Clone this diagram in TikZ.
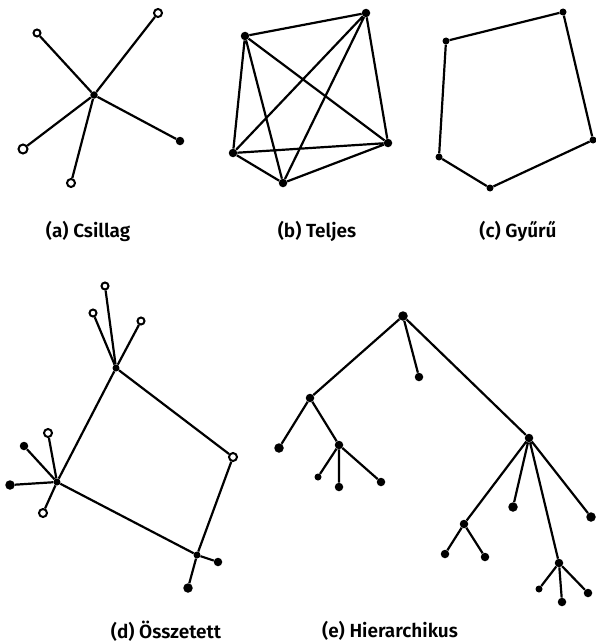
\documentclass[tikz,border=0pt]{standalone}
\usepackage{fontspec}
\newfontfamily\lblfont{Fira Sans SemiBold}
\begin{document}
\begin{tikzpicture}[x=1pt,y=-1pt,
  fdot/.style={circle,fill=black,inner sep=0pt,minimum size=8.5pt},
  sdot/.style={circle,fill=black,inner sep=0pt,minimum size=7pt},
  odot/.style={circle,draw=black,line width=2pt,fill=white,inner sep=0pt,minimum size=8pt},
  edge/.style={line width=2.2pt,black},
  lbl/.style={font=\lblfont\fontsize{19}{22}\selectfont,inner sep=0pt,anchor=center}]
\useasboundingbox (0,0) rectangle (596,642);
% (a) star
\node[fdot,minimum size=7.5pt] (ac) at (94,95) {};
\node[odot] (a1) at (158,13) {};
\node[odot,minimum size=7pt] (a2) at (37,33) {};
\node[odot,minimum size=9pt] (a3) at (23,149) {};
\node[odot] (a4) at (71,183) {};
\node[fdot] (a5) at (180,141) {};
\foreach \n in {a1,a2,a3,a4,a5} \draw[edge] (ac) -- (\n);
% (b) complete
\node[fdot] (b1) at (245,36) {};
\node[fdot] (b2) at (366,13) {};
\node[fdot] (b3) at (388,143) {};
\node[fdot] (b4) at (283,183) {};
\node[fdot] (b5) at (233,153) {};
\draw[edge] (b1)--(b2) (b1)--(b3) (b1)--(b4) (b1)--(b5)
  (b2)--(b3) (b2)--(b4) (b2)--(b5) (b3)--(b4) (b3)--(b5) (b4)--(b5);
% (c) ring
\node[sdot] (c1) at (446,41) {};
\node[sdot] (c2) at (563,12) {};
\node[sdot] (c3) at (593,140) {};
\node[sdot] (c4) at (490,188) {};
\node[sdot] (c5) at (439,157) {};
\draw[edge] (c1)--(c2)--(c3)--(c4)--(c5)--(c1);
% labels top
\node[lbl] (la) at (88,231) {(a) Csillag};
\node[lbl] (lb) at (317,231) {(b) Teljes};
\node[lbl] (lc) at (518,231) {(c) Gyűrű};
% (d) composite
\node[sdot] (d1) at (116,368) {};
\node[sdot] (d2) at (57,482) {};
\node[odot] (d3) at (233,457) {};
\node[sdot] (d4) at (197,555) {};
\node[odot,minimum size=7pt] (d1a) at (105,286) {};
\node[odot,minimum size=7pt] (d1b) at (93,313) {};
\node[odot,minimum size=7pt] (d1c) at (141,321) {};
\node[odot] (d2a) at (48,433) {};
\node[fdot] (d2b) at (24,446) {};
\node[fdot,minimum size=9.5pt] (d2c) at (10,485) {};
\node[odot] (d2d) at (43,513) {};
\node[fdot] (d4a) at (218,562) {};
\node[fdot,minimum size=9.5pt] (d4b) at (188,588) {};
\draw[edge] (d1)--(d3)--(d4)--(d2)--(d1);
\foreach \n in {d1a,d1b,d1c} \draw[edge] (d1)--(\n);
\foreach \n in {d2a,d2b,d2c,d2d} \draw[edge] (d2)--(\n);
\foreach \n in {d4a,d4b} \draw[edge] (d4)--(\n);
% (e) hierarchy
\node[fdot,minimum size=9.5pt] (r) at (403,316) {};
\node[fdot] (m) at (419,377) {};
\node[fdot] (L) at (310,398) {};
\node[fdot] (R) at (529,438) {};
\node[fdot,minimum size=9.5pt] (L1) at (279,448) {};
\node[fdot] (L2) at (339,445) {};
\node[sdot] (L2a) at (318,477) {};
\node[fdot] (L2b) at (339,487) {};
\node[fdot] (L2c) at (381,482) {};
\node[fdot] (R1) at (464,524) {};
\node[fdot,minimum size=9.5pt] (R2) at (513,507) {};
\node[fdot] (R3) at (559,563) {};
\node[fdot,minimum size=9.5pt] (R4) at (591,517) {};
\node[fdot] (R1a) at (445,554) {};
\node[fdot] (R1b) at (485,557) {};
\node[sdot] (R3a) at (539,589) {};
\node[fdot] (R3b) at (562,602) {};
\node[fdot] (R3c) at (588,593) {};
\draw[edge] (r)--(m) (r)--(L) (r)--(R)
  (L)--(L1) (L)--(L2) (L2)--(L2a) (L2)--(L2b) (L2)--(L2c)
  (R)--(R1) (R)--(R2) (R)--(R3) (R)--(R4)
  (R1)--(R1a) (R1)--(R1b) (R3)--(R3a) (R3)--(R3b) (R3)--(R3c);
% labels bottom
\node[lbl] (ld) at (166,631) {(d) Összetett};
\node[lbl] (le) at (390,631) {(e) Hierarchikus};
\end{tikzpicture}
\end{document}
